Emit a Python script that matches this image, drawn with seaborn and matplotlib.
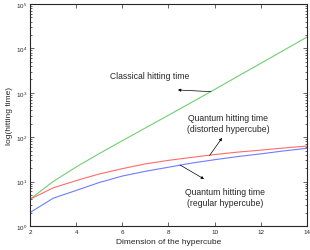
import matplotlib
matplotlib.use("Agg")
import matplotlib.pyplot as plt
import numpy as np
import pandas as pd
import seaborn as sns

sns.set_style("ticks")
plt.rcParams["font.family"] = ["Liberation Sans", "DejaVu Sans"]
plt.rcParams["mathtext.fontset"] = "custom"
plt.rcParams["mathtext.rm"] = "Liberation Sans"

# dimension of the hypercube
dims = [2, 3, 4, 5, 6, 7, 8, 9, 10, 11, 12, 13, 14]
# hitting times
classical = [4, 10, 21.3, 42.7, 83.2, 161, 312, 607, 1186, 2345, 4600, 9080, 17960]
quantum_distorted = [4, 7.2, 10.5, 14.8, 19.5, 25, 30, 35, 40.5, 46, 51, 57, 63]
quantum_regular = [2, 4.2, 6.3, 9.5, 13.3, 17, 21, 26, 31, 36.5, 42, 49, 56]

series_names = ["classical", "distorted", "regular"]
palette = {"classical": "#6fcf6f", "distorted": "#ff6b6b", "regular": "#6f7cff"}

df = pd.concat([
    pd.DataFrame({"dim": dims, "t": classical, "kind": "classical"}),
    pd.DataFrame({"dim": dims, "t": quantum_distorted, "kind": "distorted"}),
    pd.DataFrame({"dim": dims, "t": quantum_regular, "kind": "regular"}),
])

fig = plt.figure(figsize=(3.10, 2.51), dpi=100)
ax = fig.add_axes([0.097, 0.096, 0.893, 0.884])

sns.lineplot(data=df, x="dim", y="t", hue="kind", hue_order=series_names,
             palette=palette, linewidth=0.8, legend=False, ax=ax)

ax.set_yscale("log")
ax.set_xlim(2, 14)
ax.set_ylim(1, 1e5)
ax.set_xticks([2, 4, 6, 8, 10, 12, 14])
ax.tick_params(which="both", direction="in", top=True, right=True,
               labelsize=4.5, pad=2, width=0.5)
ax.tick_params(which="major", length=3)
ax.tick_params(which="minor", length=1.5)
for s in ax.spines.values():
    s.set_linewidth(0.8)

ax.set_xlabel("Dimension of the hypercube", fontsize=6, labelpad=3)
ax.set_ylabel("log(hitting time)", fontsize=6, labelpad=2)

arrow = dict(arrowstyle="-|>", color="black", lw=0.5,
             mutation_scale=4, shrinkA=0, shrinkB=0)
ax.annotate("", xy=(8.41, 1156), xytext=(9.84, 1060), arrowprops=arrow)
ax.text(7.2, 2513, "Classical hitting time", fontsize=6.2,
        ha="center", va="center")
ax.annotate("", xy=(10.32, 96), xytext=(9.78, 38.5), arrowprops=arrow)
ax.text(10.58, 209, "Quantum hitting time\n(distorted hypercube)", fontsize=6.2,
        ha="center", va="center", linespacing=1.2)
ax.annotate("", xy=(9.54, 11.4), xytext=(8.5, 23.6), arrowprops=arrow)
ax.text(10.45, 4.5, "Quantum hitting time\n(regular hypercube)", fontsize=6.2,
        ha="center", va="center", linespacing=1.2)

fig.savefig("out.png", dpi=100)
